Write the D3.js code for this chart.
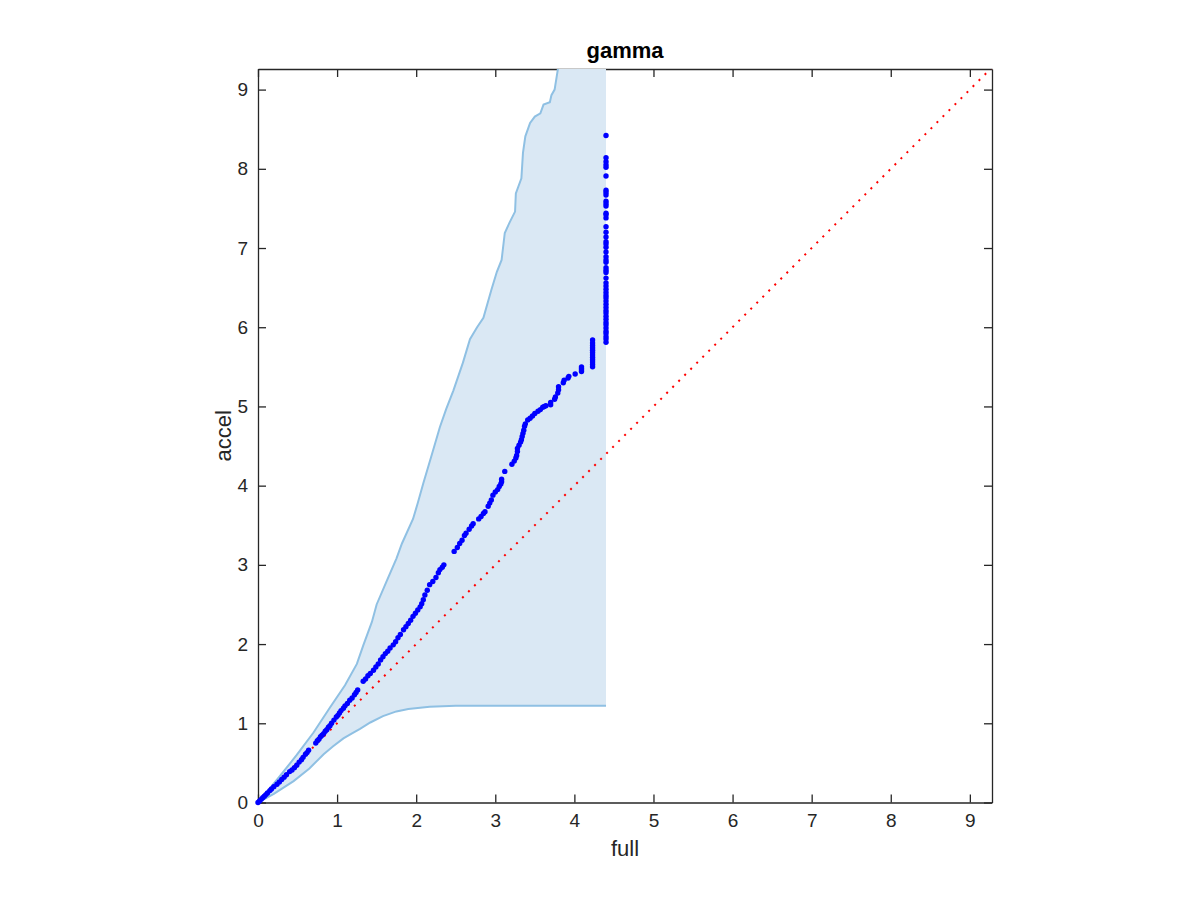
<!DOCTYPE html>
<html>
<head>
<meta charset="utf-8">
<script src="https://cdn.jsdelivr.net/npm/d3@7"></script>
<style>
  body { margin: 0; background: #fff; }
  text { font-family: "Liberation Sans", Arial, Helvetica, sans-serif; fill: #262626; }
</style>
</head>
<body>
<svg id="svg"></svg>
<script>
// Chart size
const width = 1200;
const height = 900;

// Axis limits and ticks
const xMax = 9.28;
const yMax = 9.26;
const tickValues = [0, 1, 2, 3, 4, 5, 6, 7, 8, 9];

// Reference line y = x
const refLine = [0, 9.28];

// Upper edge of the shaded band (full, accel)
const upperX = [0, 0.25, 0.49, 0.70, 0.91, 1.10, 1.25, 1.33, 1.44, 1.50, 1.62, 1.75, 1.82, 1.96, 2.02, 2.09, 2.20, 2.30, 2.38, 2.47, 2.59, 2.68, 2.77, 2.85, 2.95, 3.02, 3.08, 3.12, 3.18, 3.25, 3.26, 3.33, 3.35, 3.38, 3.44, 3.50, 3.57, 3.61, 3.69, 3.71, 3.75, 3.79, 3.80];
const upperY = [0, 0.30, 0.60, 0.88, 1.20, 1.48, 1.75, 1.98, 2.28, 2.50, 2.78, 3.08, 3.27, 3.58, 3.78, 4.03, 4.40, 4.74, 4.97, 5.20, 5.55, 5.85, 6.00, 6.12, 6.47, 6.70, 6.85, 7.19, 7.32, 7.46, 7.69, 7.88, 8.20, 8.41, 8.58, 8.66, 8.70, 8.81, 8.84, 8.93, 9.00, 9.25, 9.45];

// Lower edge of the shaded band
const lowerX = [0, 0.20, 0.45, 0.65, 0.83, 0.95, 1.08, 1.20, 1.29, 1.42, 1.58, 1.75, 1.90, 2.17, 2.50, 4.40];
const lowerY = [0, 0.11, 0.27, 0.43, 0.61, 0.71, 0.81, 0.88, 0.93, 1.01, 1.09, 1.15, 1.18, 1.21, 1.22, 1.22];

// Right end of the band
const bandEnd = 4.40;

// Quantile points (full, accel)
const qqPoints = [
  [0, 0], [0.02, 0.02], [0.04, 0.04], [0.06, 0.06], [0.08, 0.08], [0.10, 0.10], [0.12, 0.12], [0.15, 0.15],
  [0.17, 0.17], [0.20, 0.20], [0.24, 0.23], [0.27, 0.26], [0.30, 0.29], [0.33, 0.32], [0.36, 0.35], [0.40, 0.39],
  [0.43, 0.41], [0.46, 0.44], [0.49, 0.47], [0.52, 0.51], [0.55, 0.54], [0.57, 0.57], [0.60, 0.61], [0.62, 0.63],
  [0.64, 0.66], [0.73, 0.75], [0.75, 0.78], [0.77, 0.80], [0.79, 0.83], [0.81, 0.85], [0.83, 0.87], [0.85, 0.90],
  [0.87, 0.92], [0.89, 0.95], [0.91, 0.97], [0.93, 1.00], [0.96, 1.04], [0.99, 1.08], [1.01, 1.10], [1.03, 1.13],
  [1.05, 1.16], [1.08, 1.19], [1.10, 1.22], [1.13, 1.25], [1.16, 1.29], [1.19, 1.32], [1.22, 1.36], [1.24, 1.39],
  [1.26, 1.42],
  [1.33, 1.53], [1.36, 1.56], [1.39, 1.60], [1.42, 1.63], [1.46, 1.67], [1.49, 1.71], [1.52, 1.75], [1.55, 1.80],
  [1.58, 1.84], [1.61, 1.88], [1.64, 1.91], [1.67, 1.95], [1.71, 1.99], [1.74, 2.03], [1.77, 2.08], [1.80, 2.12],
  [1.84, 2.18], [1.87, 2.22], [1.90, 2.26], [1.93, 2.30], [1.96, 2.35], [1.99, 2.39], [2.02, 2.43], [2.05, 2.47],
  [2.07, 2.51], [2.09, 2.56], [2.11, 2.62], [2.14, 2.68], [2.17, 2.75], [2.21, 2.79], [2.25, 2.84], [2.28, 2.90],
  [2.30, 2.94], [2.33, 2.97], [2.35, 3.00],
  [2.48, 3.17], [2.52, 3.22], [2.55, 3.27], [2.58, 3.31], [2.61, 3.37], [2.63, 3.40], [2.67, 3.45], [2.70, 3.49],
  [2.72, 3.52], [2.79, 3.58], [2.82, 3.61], [2.85, 3.65], [2.87, 3.67], [2.91, 3.74], [2.93, 3.78], [2.95, 3.82],
  [2.97, 3.88], [3.00, 3.92], [3.03, 3.95], [3.05, 3.99], [3.07, 4.02], [3.08, 4.05], [3.08, 4.08], [3.12, 4.18],
  [3.21, 4.27], [3.24, 4.31], [3.26, 4.35], [3.27, 4.38], [3.28, 4.43], [3.28, 4.47], [3.30, 4.51], [3.32, 4.55],
  [3.33, 4.58], [3.34, 4.62], [3.35, 4.66], [3.36, 4.70], [3.37, 4.75], [3.38, 4.78], [3.41, 4.83], [3.44, 4.85],
  [3.47, 4.88], [3.50, 4.91], [3.54, 4.94], [3.57, 4.96], [3.60, 4.99], [3.62, 5.00], [3.64, 5.01], [3.70, 5.02],
  [3.70, 5.05], [3.75, 5.09], [3.76, 5.12], [3.79, 5.17], [3.80, 5.21], [3.80, 5.25], [3.86, 5.30], [3.87, 5.33],
  [3.92, 5.36], [3.93, 5.38], [4.01, 5.41], [4.09, 5.44], [4.09, 5.46], [4.09, 5.48], [4.09, 5.50],
  [4.23, 5.50], [4.23, 5.53], [4.23, 5.56], [4.23, 5.59], [4.23, 5.62], [4.23, 5.65], [4.23, 5.68], [4.23, 5.71],
  [4.23, 5.74], [4.23, 5.77], [4.23, 5.80], [4.23, 5.84],
  [4.40, 5.81], [4.40, 5.85], [4.40, 5.88], [4.40, 5.92], [4.40, 5.95], [4.40, 5.99], [4.40, 6.03], [4.40, 6.06],
  [4.40, 6.10], [4.40, 6.14], [4.40, 6.18], [4.40, 6.21], [4.40, 6.25], [4.40, 6.29], [4.40, 6.33], [4.40, 6.37],
  [4.40, 6.40], [4.40, 6.44], [4.40, 6.48], [4.40, 6.52], [4.40, 6.56], [4.40, 6.62], [4.40, 6.69], [4.40, 6.72],
  [4.40, 6.75], [4.40, 6.82], [4.40, 6.85], [4.40, 6.89], [4.40, 6.95], [4.40, 7.01], [4.40, 7.05], [4.40, 7.08],
  [4.40, 7.14], [4.40, 7.20], [4.40, 7.27], [4.40, 7.38], [4.40, 7.42], [4.40, 7.44], [4.40, 7.53], [4.40, 7.56],
  [4.40, 7.59], [4.40, 7.67], [4.40, 7.70], [4.40, 7.73], [4.40, 7.91], [4.40, 8.02], [4.40, 8.05], [4.40, 8.09],
  [4.40, 8.14], [4.40, 8.42]
];

// Plot area
const margin = { top: 69, right: 208, bottom: 97.5, left: 258 };
const chartWidth = width - margin.left - margin.right;
const chartHeight = height - margin.top - margin.bottom;

let svg = d3.select("#svg").attr("width", width).attr("height", height);

let x = d3.scaleLinear().domain([0, xMax]).range([0, chartWidth]);
let y = d3.scaleLinear().domain([0, yMax]).range([chartHeight, 0]);

let chart = svg.append("g")
    .attr("transform", "translate(" + margin.left + "," + margin.top + ")");

svg.append("defs").append("clipPath")
    .attr("id", "plot-clip")
  .append("rect")
    .attr("x", 0).attr("y", 0)
    .attr("width", chartWidth).attr("height", chartHeight);

// Axes first, the data is drawn on top of them
function styleAxis(g) {
    g.selectAll("path, line").attr("stroke", "#262626").attr("stroke-width", 1.3);
    g.selectAll("text")
        .style("font-family", "'Liberation Sans', Arial, sans-serif")
        .style("font-size", "19px")
        .attr("fill", "#262626");
}

chart.append("g")
    .attr("transform", "translate(0," + chartHeight + ")")
    .call(d3.axisBottom(x).tickValues(tickValues).tickSizeInner(-8).tickSizeOuter(0).tickPadding(11))
    .call(styleAxis);

chart.append("g")
    .call(d3.axisTop(x).tickValues(tickValues).tickSizeInner(-8).tickSizeOuter(0).tickFormat(""))
    .call(styleAxis);

chart.append("g")
    .call(d3.axisLeft(y).tickValues(tickValues).tickSizeInner(-8).tickSizeOuter(0).tickPadding(10))
    .call(styleAxis);

chart.append("g")
    .attr("transform", "translate(" + chartWidth + ",0)")
    .call(d3.axisRight(y).tickValues(tickValues).tickSizeInner(-8).tickSizeOuter(0).tickFormat(""))
    .call(styleAxis);

let plot = chart.append("g").attr("clip-path", "url(#plot-clip)");

// Shaded band: upper edge, across the top to the end, back along the lower edge
let upperPts = upperX.map((v, i) => [v, upperY[i]]);
let lowerPts = lowerX.map((v, i) => [v, lowerY[i]]);
let bandPts = upperPts
    .concat([[bandEnd, upperY[upperY.length - 1]], [bandEnd, lowerY[lowerY.length - 1]]])
    .concat(lowerPts.slice().reverse());

let line = d3.line().x(d => x(d[0])).y(d => y(d[1]));

plot.append("path")
    .attr("d", line(bandPts) + "Z")
    .attr("fill", "#dae8f4")
    .attr("stroke", "none");

[upperPts, lowerPts].forEach(pts => {
    plot.append("path")
        .attr("d", line(pts))
        .attr("fill", "none")
        .attr("stroke", "#8fc0e3")
        .attr("stroke-width", 2);
});

// Quantile points
chart.append("g").selectAll("circle")
    .data(qqPoints)
    .enter()
    .append("circle")
    .attr("cx", d => x(d[0]))
    .attr("cy", d => y(d[1]))
    .attr("r", 2.7)
    .attr("fill", "#0000ff");

// Dotted reference line, drawn over the points
plot.append("line")
    .attr("x1", x(refLine[0])).attr("y1", y(refLine[0]))
    .attr("x2", x(refLine[1])).attr("y2", y(refLine[1]))
    .attr("stroke", "#ff0000")
    .attr("stroke-width", 2)
    .attr("stroke-dasharray", "2 6.5");

// Labels and title
svg.append("text")
    .attr("x", margin.left + chartWidth / 2)
    .attr("y", 856)
    .attr("text-anchor", "middle")
    .style("font-size", "22px")
    .text("full");

svg.append("text")
    .attr("transform", "translate(231," + (margin.top + chartHeight / 2) + ") rotate(-90)")
    .attr("text-anchor", "middle")
    .style("font-size", "22px")
    .text("accel");

svg.append("text")
    .attr("x", margin.left + chartWidth / 2)
    .attr("y", 58)
    .attr("text-anchor", "middle")
    .style("font-size", "22px")
    .style("font-weight", "bold")
    .style("fill", "#000")
    .text("gamma");
</script>
</body>
</html>
